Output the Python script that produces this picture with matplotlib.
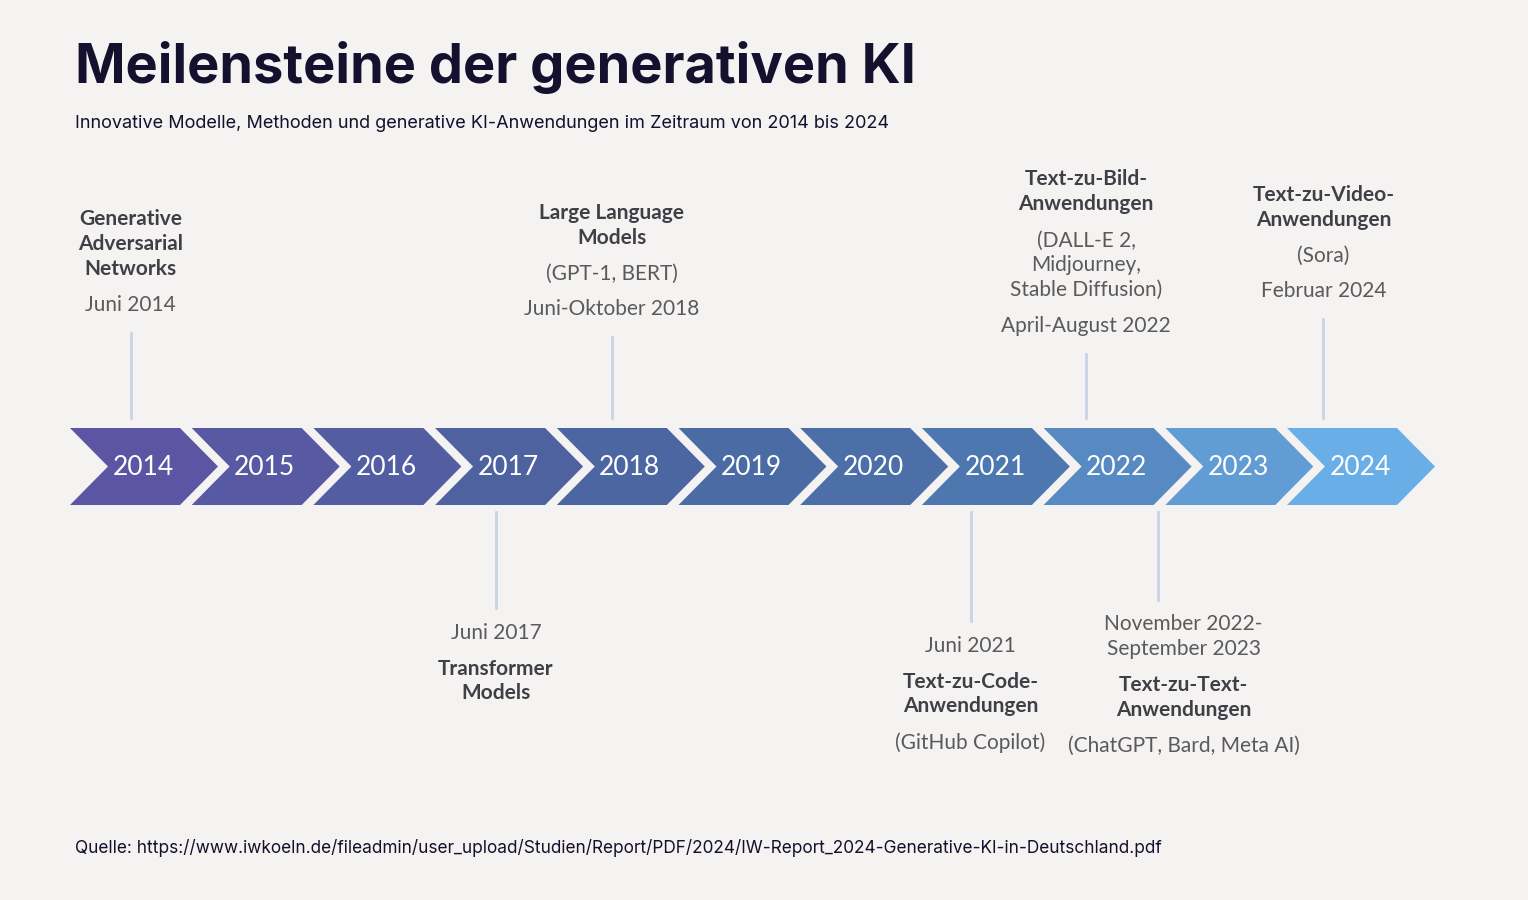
import matplotlib
matplotlib.use("Agg")
import matplotlib.pyplot as plt
from matplotlib.patches import Polygon
import matplotlib.colors as mc
import numpy as np

years = ["2014","2015","2016","2017","2018","2019","2020","2021","2022","2023","2024"]
# milestones: position in year units (0 = 2014 label), line position, side, title, detail, date
ms_year_pos = [-0.1, 2.9, 3.85, 6.8, 8.55, 7.75, 9.7]
ms_line_pos = [-0.1, 2.9, 3.85, 6.8, 8.34, 7.75, 9.7]
ms_side = ["top","bottom","top","bottom","bottom","top","top"]
ms_title = ["Generative\nAdversarial\nNetworks","Transformer\nModels","Large Language\nModels",
            "Text-zu-Code-\nAnwendungen","Text-zu-Text-\nAnwendungen","Text-zu-Bild-\nAnwendungen","Text-zu-Video-\nAnwendungen"]
ms_detail = ["","", "(GPT-1, BERT)","(GitHub Copilot)","(ChatGPT, Bard, Meta AI)",
             "(DALL-E 2,\nMidjourney,\nStable Diffusion)","(Sora)"]
ms_date = ["Juni 2014","Juni 2017","Juni-Oktober 2018","Juni 2021","November 2022-\nSeptember 2023",
           "April-August 2022","Februar 2024"]

W,H=1528,900
fig=plt.figure(figsize=(W/100,H/100),dpi=100)
bg="#f5f2f2"
fig.patch.set_facecolor(bg)
ax=fig.add_axes([0,0,1,1]); ax.set_xlim(0,W); ax.set_ylim(H,0); ax.axis("off")
F="Lato"
fig.text(75/W,1-68/H,"Meilensteine der generativen KI",fontsize=39,fontweight="bold",color="#14112e",family="Inter",va="center")
fig.text(75/W,1-124/H,"Innovative Modelle, Methoden und generative KI-Anwendungen im Zeitraum von 2014 bis 2024",fontsize=13,color="#14112e",family="Inter",va="center")
fig.text(75/W,1-848/H,"Quelle: https://www.iwkoeln.de/fileadmin/user_upload/Studien/Report/PDF/2024/IW-Report_2024-Generative-KI-in-Deutschland.pdf",fontsize=12.4,color="#14112e",family="Inter",va="center")

pitch=121.7; x0=70; w=110; d=38; top,bot=428,505; mid=(top+bot)/2
cmap=mc.LinearSegmentedColormap.from_list("g",["#5b55a3","#4d63a0","#4a72a8","#6aaee8"])
for i,y in enumerate(years):
    xs=x0+pitch*i
    col=cmap(i/(len(years)-1))
    ax.add_patch(Polygon([(xs,top),(xs+w,top),(xs+w+d,mid),(xs+w,bot),(xs,bot),(xs+d,mid)],closed=True,fc=col,ec="none"))
    ax.text(xs+d+35,mid+1,y,color="white",fontsize=19,family=F,ha="center",va="center")

def px(p): return x0+d+35+pitch*p
grey="#5a5a5a"; dark="#3f3f46"; lc="#c9d3e3"
tops={0:318,2:322,5:339,6:304}
bots={1:620,3:633,4:611}
for k,(p,lp,s,t,de,da) in enumerate(zip(ms_year_pos,ms_line_pos,ms_side,ms_title,ms_detail,ms_date)):
    x=px(p); lx=px(lp)
    if s=="top":
        blocks=[(t,True),(de,False),(da,False)]
    else:
        blocks=[(da,False),(t,True),(de,False)]
    blocks=[b for b in blocks if b[0]]
    lh=25.5; gap=10
    heights=[len(b[0].split("\n"))*lh for b in blocks]
    total=sum(heights)+gap*(len(blocks)-1)
    if s=="top":
        base=tops[k]; ycur=base-total
        ax.plot([lx,lx],[base+15,418],color=lc,lw=2)
    else:
        base=bots[k]; ycur=base
        ax.plot([lx,lx],[512,600 if k==4 else base-12],color=lc,lw=2)
    for (txt,b),h in zip(blocks,heights):
        ax.text(x,ycur+h/2,txt,ha="center",va="center",fontsize=15,family=F,
                color=dark if b else grey,fontweight="bold" if b else "normal",linespacing=1.3)
        ycur+=h+gap
fig.savefig("out.png",dpi=100,facecolor=bg)
